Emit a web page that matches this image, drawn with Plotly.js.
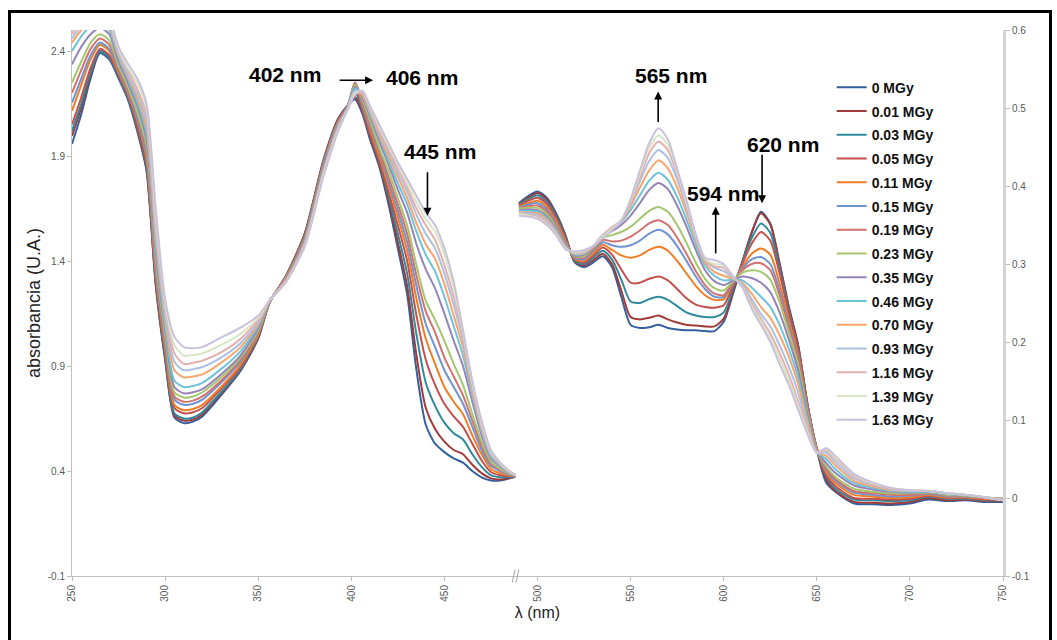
<!DOCTYPE html>
<html>
<head>
<meta charset="utf-8">
<script src="https://cdn.plot.ly/plotly-3.0.1.min.js"></script>
<style>
  html, body { margin: 0; padding: 0; background: #fff; }
  #wrap { position: relative; width: 1057px; height: 640px; overflow: hidden; }
  #chart { position: absolute; left: 0; top: 0; width: 1057px; height: 640px; }
  #frame { position: absolute; left: 8px; top: 10px; width: 1038px; height: 700px;
           border: 3px solid #000; pointer-events: none; }
</style>
</head>
<body>
<div id="wrap">
  <div id="chart"></div>
  <div id="frame"></div>
</div>
<script>
// Wavelengths (nm) of the UV band (left axis) and of the visible band (right axis)
const wlLeft = [250,255,260,265,270,275,280,285,290,295,300,305,310,315,320,330,340,350,356,365,375,385,393,398,402,406,410,415,420,425,430,435,440,445,450,455,460,465,470,475,480,485,488];
const wlRight = [490,495,500,505,510,515,520,525,530,535,540,545,550,555,560,565,570,575,580,585,590,595,600,605,610,615,620,625,630,635,640,645,650,655,660,670,680,690,700,710,720,730,740,750];

// Absorbed dose of each spectrum
const doses = ['0 MGy','0.01 MGy','0.03 MGy','0.05 MGy','0.11 MGy','0.15 MGy','0.19 MGy','0.23 MGy','0.35 MGy','0.46 MGy','0.70 MGy','0.93 MGy','1.16 MGy','1.39 MGy','1.63 MGy'];

// Absorbance, UV band (250-488 nm)
const uv0    = [1.957,2.10,2.27,2.39,2.36,2.27,2.17,2.02,1.83,1.28,0.93,0.655,0.628,0.635,0.66,0.76,0.87,1.03,1.20,1.33,1.53,1.88,2.08,2.14,2.17,2.10,1.98,1.85,1.67,1.46,1.24,0.88,0.62,0.53,0.49,0.46,0.44,0.40,0.37,0.355,0.355,0.365,0.372];
const uv001  = [1.996,2.13,2.29,2.40,2.37,2.28,2.18,2.03,1.84,1.29,0.94,0.665,0.64,0.645,0.67,0.77,0.875,1.035,1.20,1.33,1.53,1.875,2.075,2.14,2.18,2.11,1.99,1.86,1.69,1.49,1.28,0.95,0.70,0.60,0.54,0.50,0.48,0.43,0.39,0.365,0.36,0.368,0.373];
const uv003  = [2.02,2.15,2.30,2.40,2.37,2.28,2.18,2.04,1.85,1.30,0.95,0.675,0.65,0.655,0.68,0.775,0.88,1.04,1.20,1.33,1.525,1.87,2.07,2.14,2.20,2.12,2.00,1.87,1.71,1.53,1.34,1.05,0.82,0.71,0.63,0.58,0.55,0.48,0.42,0.38,0.37,0.372,0.374];
const uv005  = [2.05,2.18,2.32,2.41,2.38,2.29,2.19,2.05,1.87,1.32,0.97,0.70,0.675,0.68,0.70,0.79,0.89,1.045,1.20,1.325,1.52,1.865,2.07,2.14,2.22,2.13,2.01,1.88,1.73,1.57,1.40,1.14,0.93,0.81,0.72,0.66,0.61,0.53,0.45,0.395,0.38,0.375,0.375];
const uv011  = [2.115,2.24,2.36,2.43,2.40,2.30,2.20,2.07,1.89,1.34,0.99,0.715,0.69,0.695,0.715,0.80,0.90,1.05,1.205,1.325,1.515,1.86,2.065,2.135,2.24,2.14,2.03,1.90,1.76,1.61,1.45,1.22,1.03,0.91,0.80,0.73,0.67,0.57,0.48,0.41,0.39,0.378,0.376];
const uv015  = [2.154,2.27,2.38,2.44,2.41,2.31,2.21,2.08,1.91,1.36,1.01,0.74,0.715,0.72,0.74,0.82,0.915,1.06,1.205,1.32,1.51,1.855,2.06,2.135,2.25,2.15,2.04,1.92,1.78,1.64,1.49,1.28,1.10,0.99,0.88,0.80,0.72,0.61,0.50,0.425,0.40,0.381,0.377];
const uv019  = [2.20,2.31,2.41,2.46,2.43,2.32,2.22,2.10,1.93,1.38,1.03,0.755,0.73,0.735,0.755,0.83,0.925,1.065,1.205,1.32,1.505,1.85,2.06,2.135,2.25,2.16,2.05,1.93,1.80,1.67,1.53,1.33,1.16,1.06,0.94,0.85,0.76,0.64,0.52,0.435,0.405,0.383,0.378];
const uv023  = [2.25,2.35,2.44,2.48,2.45,2.33,2.23,2.11,1.95,1.41,1.05,0.775,0.75,0.755,0.775,0.845,0.935,1.07,1.205,1.315,1.50,1.845,2.055,2.13,2.24,2.17,2.07,1.94,1.83,1.70,1.57,1.38,1.21,1.12,1.02,0.91,0.81,0.67,0.54,0.445,0.41,0.385,0.378];
const uv035  = [2.337,2.42,2.48,2.51,2.48,2.35,2.25,2.14,1.98,1.44,1.08,0.80,0.77,0.775,0.79,0.86,0.945,1.08,1.21,1.315,1.495,1.84,2.05,2.13,2.23,2.18,2.09,1.97,1.86,1.74,1.63,1.48,1.36,1.27,1.15,1.02,0.90,0.73,0.57,0.46,0.42,0.388,0.379];
const uv046  = [2.40,2.47,2.52,2.54,2.50,2.37,2.27,2.16,2.01,1.48,1.10,0.83,0.80,0.805,0.82,0.885,0.965,1.09,1.21,1.31,1.49,1.83,2.045,2.13,2.22,2.19,2.10,1.99,1.88,1.77,1.67,1.54,1.43,1.35,1.23,1.09,0.95,0.76,0.59,0.47,0.425,0.39,0.38];
const uv070  = [2.44,2.50,2.54,2.56,2.52,2.38,2.28,2.18,2.04,1.51,1.13,0.88,0.846,0.85,0.86,0.915,0.985,1.10,1.21,1.31,1.485,1.825,2.04,2.125,2.21,2.19,2.11,2.00,1.90,1.80,1.70,1.58,1.48,1.41,1.29,1.14,0.99,0.78,0.60,0.475,0.43,0.392,0.38];
const uv093  = [2.46,2.52,2.56,2.58,2.53,2.39,2.29,2.20,2.07,1.54,1.15,0.92,0.88,0.885,0.895,0.94,1.005,1.11,1.21,1.305,1.48,1.82,2.035,2.125,2.21,2.20,2.12,2.01,1.92,1.82,1.73,1.62,1.53,1.46,1.34,1.19,1.02,0.80,0.61,0.48,0.433,0.394,0.381];
const uv116  = [2.48,2.54,2.58,2.59,2.54,2.40,2.31,2.22,2.10,1.58,1.18,0.96,0.91,0.915,0.925,0.965,1.025,1.12,1.21,1.305,1.475,1.815,2.03,2.12,2.20,2.20,2.13,2.02,1.93,1.84,1.75,1.65,1.57,1.50,1.38,1.23,1.04,0.81,0.62,0.49,0.436,0.396,0.382];
const uv139  = [2.49,2.55,2.59,2.60,2.55,2.41,2.32,2.25,2.13,1.62,1.20,1.00,0.95,0.952,0.96,1.00,1.05,1.13,1.21,1.30,1.47,1.81,2.025,2.12,2.20,2.21,2.135,2.04,1.95,1.86,1.77,1.68,1.60,1.54,1.43,1.27,1.06,0.82,0.63,0.495,0.438,0.398,0.382];
const uv163  = [2.495,2.56,2.60,2.61,2.56,2.42,2.34,2.27,2.15,1.65,1.22,1.04,0.99,0.985,0.99,1.035,1.08,1.14,1.21,1.30,1.47,1.80,2.02,2.12,2.19,2.21,2.14,2.05,1.96,1.87,1.79,1.71,1.63,1.57,1.46,1.30,1.07,0.83,0.64,0.50,0.44,0.40,0.383];

// Absorbance, visible band (490-750 nm)
const vis0   = [0.378,0.387,0.393,0.385,0.365,0.337,0.302,0.296,0.302,0.310,0.296,0.258,0.222,0.218,0.219,0.222,0.218,0.216,0.215,0.215,0.214,0.214,0.226,0.262,0.302,0.340,0.367,0.352,0.301,0.245,0.196,0.120,0.062,0.020,0.008,-0.007,-0.008,-0.009,-0.007,-0.002,-0.004,-0.003,-0.005,-0.005];
const vis001 = [0.377,0.385,0.391,0.383,0.363,0.336,0.303,0.298,0.305,0.313,0.300,0.266,0.232,0.229,0.231,0.234,0.229,0.225,0.222,0.221,0.220,0.220,0.230,0.264,0.303,0.340,0.365,0.351,0.300,0.244,0.195,0.120,0.063,0.024,0.009,-0.005,-0.006,-0.007,-0.005,0.000,-0.003,-0.002,-0.004,-0.004];
const vis003 = [0.376,0.383,0.388,0.380,0.361,0.334,0.304,0.300,0.308,0.317,0.306,0.280,0.252,0.250,0.255,0.258,0.254,0.246,0.238,0.234,0.232,0.232,0.238,0.268,0.302,0.333,0.352,0.340,0.294,0.240,0.192,0.120,0.064,0.028,0.012,-0.002,-0.003,-0.004,-0.003,0.002,-0.001,-0.001,-0.003,-0.003];
const vis005 = [0.375,0.381,0.385,0.377,0.358,0.332,0.306,0.302,0.311,0.321,0.312,0.293,0.276,0.276,0.281,0.284,0.279,0.268,0.256,0.248,0.245,0.244,0.247,0.272,0.300,0.326,0.341,0.330,0.288,0.236,0.190,0.118,0.064,0.030,0.015,0.000,-0.001,-0.002,-0.001,0.003,0.000,0.000,-0.002,-0.002];
const vis011 = [0.374,0.378,0.381,0.373,0.355,0.330,0.307,0.304,0.314,0.325,0.318,0.311,0.308,0.311,0.318,0.322,0.317,0.304,0.288,0.272,0.260,0.254,0.255,0.275,0.296,0.313,0.320,0.312,0.275,0.228,0.183,0.115,0.063,0.033,0.019,0.004,0.002,0.000,0.001,0.004,0.001,0.001,-0.001,-0.002];
const vis015 = [0.373,0.376,0.378,0.370,0.352,0.328,0.308,0.306,0.317,0.328,0.324,0.322,0.324,0.330,0.339,0.344,0.338,0.323,0.304,0.284,0.268,0.258,0.258,0.276,0.294,0.306,0.309,0.300,0.266,0.222,0.179,0.113,0.062,0.036,0.022,0.007,0.004,0.002,0.003,0.005,0.002,0.002,0.000,-0.001];
const vis019 = [0.372,0.374,0.375,0.367,0.350,0.327,0.309,0.308,0.319,0.331,0.329,0.330,0.335,0.343,0.352,0.356,0.350,0.334,0.313,0.291,0.273,0.262,0.260,0.277,0.292,0.300,0.301,0.292,0.260,0.218,0.176,0.112,0.062,0.038,0.024,0.009,0.006,0.004,0.004,0.006,0.003,0.003,0.000,-0.001];
const vis023 = [0.371,0.372,0.372,0.364,0.347,0.325,0.310,0.310,0.321,0.334,0.337,0.341,0.348,0.358,0.368,0.373,0.367,0.350,0.327,0.302,0.281,0.269,0.266,0.278,0.289,0.292,0.290,0.280,0.251,0.212,0.171,0.110,0.061,0.041,0.027,0.012,0.008,0.006,0.006,0.007,0.004,0.003,0.001,-0.001];
const vis035 = [0.369,0.370,0.369,0.361,0.345,0.324,0.311,0.312,0.322,0.336,0.342,0.350,0.362,0.378,0.395,0.404,0.396,0.375,0.348,0.318,0.292,0.278,0.273,0.279,0.284,0.282,0.276,0.264,0.238,0.203,0.163,0.106,0.060,0.045,0.032,0.016,0.011,0.008,0.007,0.008,0.005,0.004,0.001,-0.002];
const vis046 = [0.368,0.368,0.367,0.359,0.343,0.323,0.312,0.313,0.323,0.337,0.345,0.354,0.369,0.388,0.407,0.417,0.408,0.386,0.357,0.325,0.298,0.285,0.279,0.280,0.279,0.270,0.258,0.245,0.222,0.191,0.154,0.101,0.059,0.050,0.037,0.019,0.013,0.009,0.008,0.008,0.005,0.004,0.001,-0.002];
const vis070 = [0.367,0.366,0.365,0.357,0.342,0.322,0.313,0.314,0.323,0.337,0.346,0.355,0.374,0.398,0.420,0.433,0.423,0.398,0.366,0.331,0.302,0.290,0.285,0.281,0.276,0.262,0.245,0.231,0.209,0.181,0.146,0.097,0.059,0.054,0.042,0.022,0.015,0.010,0.009,0.009,0.006,0.004,0.001,-0.002];
const vis093 = [0.366,0.365,0.363,0.355,0.341,0.321,0.314,0.315,0.323,0.337,0.347,0.356,0.378,0.406,0.432,0.446,0.436,0.408,0.372,0.334,0.305,0.295,0.291,0.282,0.274,0.255,0.236,0.220,0.196,0.168,0.135,0.092,0.058,0.058,0.046,0.025,0.017,0.011,0.009,0.009,0.006,0.004,0.001,-0.003];
const vis116 = [0.365,0.363,0.361,0.353,0.339,0.320,0.315,0.316,0.323,0.336,0.347,0.356,0.380,0.411,0.442,0.457,0.446,0.415,0.376,0.336,0.306,0.297,0.295,0.283,0.272,0.250,0.230,0.211,0.186,0.158,0.124,0.088,0.058,0.061,0.050,0.028,0.018,0.012,0.010,0.009,0.006,0.004,0.001,-0.003];
const vis139 = [0.364,0.362,0.359,0.351,0.338,0.320,0.315,0.317,0.323,0.335,0.345,0.356,0.382,0.416,0.449,0.465,0.453,0.419,0.379,0.337,0.307,0.300,0.298,0.284,0.271,0.246,0.226,0.205,0.179,0.151,0.118,0.085,0.058,0.063,0.052,0.030,0.019,0.013,0.010,0.009,0.006,0.004,0.001,-0.003];
const vis163 = [0.362,0.361,0.358,0.350,0.337,0.319,0.316,0.318,0.323,0.333,0.343,0.355,0.383,0.420,0.455,0.474,0.460,0.422,0.382,0.338,0.308,0.305,0.300,0.284,0.270,0.243,0.222,0.200,0.172,0.145,0.113,0.082,0.058,0.064,0.054,0.031,0.020,0.013,0.010,0.009,0.006,0.004,0.001,-0.003];

const uvSeries  = [uv0, uv001, uv003, uv005, uv011, uv015, uv019, uv023, uv035, uv046, uv070, uv093, uv116, uv139, uv163];
const visSeries = [vis0, vis001, vis003, vis005, vis011, vis015, vis019, vis023, vis035, vis046, vis070, vis093, vis116, vis139, vis163];

// Axis ticks
const xTicks = [250,300,350,400,450,500,550,600,650,700,750];
const yLeftTicks = [-0.1,0.4,0.9,1.4,1.9,2.4];
const yLeftLabels = ['-0.1','0.4','0.9','1.4','1.9','2.4'];
const yRightTicks = [-0.1,0,0.1,0.2,0.3,0.4,0.5,0.6];
const yRightLabels = ['-0.1','0','0.1','0.2','0.3','0.4','0.5','0.6'];

// Line colours, one per dose
const palette = ['#34609e','#a13b39','#2f8a9c','#c4504d','#f07d26','#6e94d3','#d2726f','#a5c66d',
                 '#9584b6','#6dc3dc','#f8a56d','#aac1e2','#e6afae','#d7e5c4','#c9c1dc'];

const traces = [];
doses.forEach((d, i) => {
  const common = {
    type: 'scatter', mode: 'lines', name: d, legendgroup: 'g' + i,
    line: { color: palette[i], width: 2, shape: 'spline', smoothing: 0.7 },
    hoverinfo: 'skip'
  };
  traces.push(Object.assign({}, common, { x: wlLeft, y: uvSeries[i], yaxis: 'y' }));
  traces.push(Object.assign({}, common, { x: wlRight, y: visSeries[i], yaxis: 'y2', showlegend: false }));
});

const tickFont = { family: 'Liberation Sans, Arial, sans-serif', size: 10, color: '#595959' };
const labelFont = { family: 'Liberation Sans, Arial, sans-serif', size: 21, color: '#000', weight: 'bold' };

function label(text, x, y, yref) {
  return { text: text, x: x, y: y, xref: 'x', yref: yref, showarrow: false, font: labelFont,
           xanchor: 'center', yanchor: 'middle' };
}
function arrow(x, y, yref, ax, ay) {
  return { text: '', x: x, y: y, xref: 'x', yref: yref, showarrow: true, ax: ax, ay: ay,
           arrowhead: 2, arrowsize: 1, arrowwidth: 1.6, arrowcolor: '#000', standoff: 0 };
}

const layout = {
  width: 1057, height: 640,
  margin: { l: 72, r: 54, t: 30, b: 64 },
  paper_bgcolor: '#fff', plot_bgcolor: '#fff',
  showlegend: true,
  legend: {
    x: 0.816, y: 0.9235, xanchor: 'left', yanchor: 'top',
    font: { family: 'Liberation Sans, Arial, sans-serif', size: 14, color: '#111', weight: 'bold' },
    tracegroupgap: 2.55, bgcolor: 'rgba(0,0,0,0)', itemwidth: 30
  },
  xaxis: {
    range: [250, 750], tickvals: xTicks, ticktext: xTicks.map(String), tickangle: -90,
    tickfont: tickFont, ticks: 'outside', ticklen: 4, tickcolor: '#bfbfbf',
    showline: true, linecolor: '#bfbfbf', linewidth: 1, showgrid: false, zeroline: false,
    title: { text: 'λ (nm)', font: { family: 'Liberation Sans, Arial, sans-serif', size: 16, color: '#222' }, standoff: 6 }
  },
  yaxis: {
    range: [-0.1, 2.5], tickvals: yLeftTicks, ticktext: yLeftLabels,
    tickfont: tickFont, ticks: 'outside', ticklen: 4, tickcolor: '#bfbfbf',
    showline: true, linecolor: '#bfbfbf', linewidth: 1, showgrid: false, zeroline: false,
    title: { text: 'absorbancia (U.A.)', font: { family: 'Liberation Sans, Arial, sans-serif', size: 18, color: '#222' }, standoff: 2 }
  },
  yaxis2: {
    range: [-0.1, 0.6], tickvals: yRightTicks, ticktext: yRightLabels, overlaying: 'y', side: 'right',
    tickfont: tickFont, ticks: 'outside', ticklen: 4, tickcolor: '#bfbfbf',
    showline: true, linecolor: '#d4d4d4', linewidth: 3, showgrid: false, zeroline: false
  },
  shapes: [
    // axis break marks
    { type: 'line', xref: 'x', yref: 'paper', x0: 486.4, y0: -0.012, x1: 488.0, y1: 0.012, line: { color: '#a6a6a6', width: 1 } },
    { type: 'line', xref: 'x', yref: 'paper', x0: 488.4, y0: -0.012, x1: 490.0, y1: 0.012, line: { color: '#a6a6a6', width: 1 } }
  ],
  annotations: [
    label('402 nm', 364.5, 2.286, 'y'),
    arrow(411.7, 2.261, 'y', -35, 0),
    label('406 nm', 438.1, 2.276, 'y'),
    label('445 nm', 447.8, 1.92, 'y'),
    arrow(440.9, 1.616, 'y', 0, -45),
    label('565 nm', 571.7, 0.542, 'y2'),
    arrow(564.8, 0.521, 'y2', 0, 32),
    label('594 nm', 599.4, 0.390, 'y2'),
    arrow(595.7, 0.3735, 'y2', 0, 48),
    label('620 nm', 631.8, 0.4535, 'y2'),
    arrow(620.6, 0.378, 'y2', 0, -50)
  ]
};

Plotly.newPlot('chart', traces, layout, { staticPlot: true, displayModeBar: false });
</script>
</body>
</html>
